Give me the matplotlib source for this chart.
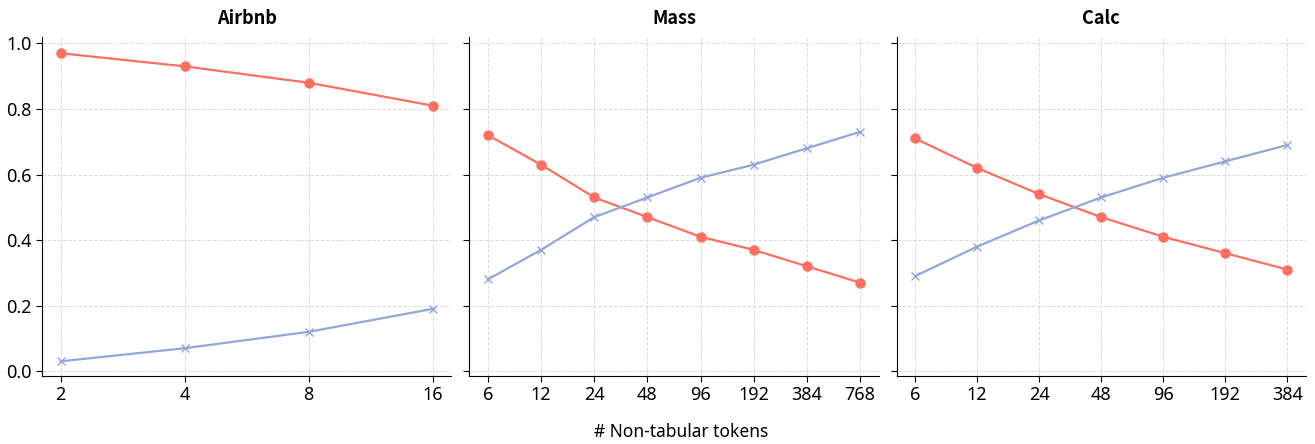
import matplotlib
matplotlib.use("Agg")
import matplotlib.pyplot as plt

plt.rcParams['font.family'] = ['Noto Sans', 'DejaVu Sans']

# data
titles = ["Airbnb", "Mass", "Calc"]
airbnb_x = ["2", "4", "8", "16"]
airbnb_red = [0.97, 0.93, 0.88, 0.81]
airbnb_blue = [0.03, 0.07, 0.12, 0.19]

mass_x = ["6", "12", "24", "48", "96", "192", "384", "768"]
mass_red = [0.72, 0.63, 0.53, 0.47, 0.41, 0.37, 0.32, 0.27]
mass_blue = [0.28, 0.37, 0.47, 0.53, 0.59, 0.63, 0.68, 0.73]

calc_x = ["6", "12", "24", "48", "96", "192", "384"]
calc_red = [0.71, 0.62, 0.54, 0.47, 0.41, 0.36, 0.31]
calc_blue = [0.29, 0.38, 0.46, 0.53, 0.59, 0.64, 0.69]

red = "#FF6F61"
blue = "#91A7DB"

fig, axes = plt.subplots(1, 3, figsize=(13.15, 4.44), dpi=100, sharey=True)
fig.subplots_adjust(left=0.032, right=0.993, bottom=0.153, top=0.917, wspace=0.044)

panels = [(airbnb_x, airbnb_red, airbnb_blue),
          (mass_x, mass_red, mass_blue),
          (calc_x, calc_red, calc_blue)]

for ax, title, (xs, r, b) in zip(axes, titles, panels):
    pos = list(range(len(xs)))
    ax.plot(pos, r, color=red, marker="o", markersize=6.5, linewidth=1.6, zorder=3)
    ax.plot(pos, b, color=blue, marker="x", markersize=5.5, markeredgewidth=1.0,
            linewidth=1.6, zorder=3)
    ax.set_xticks(pos)
    ax.set_xticklabels(xs)
    ax.set_title(title, fontsize=13, fontweight="bold", pad=9,
                 family=['Noto Sans CJK KR', 'DejaVu Sans'])
    ax.grid(True, linestyle="--", color="#dddddd", linewidth=0.7)
    ax.set_axisbelow(True)
    for s in ["top", "right"]:
        ax.spines[s].set_visible(False)
    ax.tick_params(labelsize=13, length=4)

axes[0].set_ylim(-0.015, 1.02)
axes[0].set_yticks([0.0, 0.2, 0.4, 0.6, 0.8, 1.0])

fig.text(0.518, 0.027, "# Non-tabular tokens", ha="center", va="center", fontsize=12.5)

fig.savefig("out.png", dpi=100)
